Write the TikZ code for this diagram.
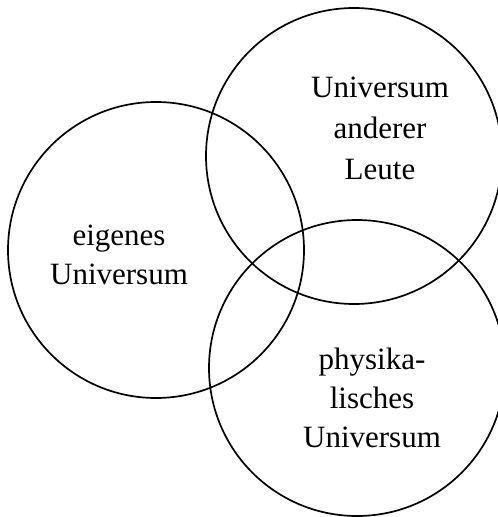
\documentclass[tikz,border=0pt]{standalone}
\usepackage{fontspec}
\setmainfont{Liberation Serif}
\begin{document}
\begin{tikzpicture}[x=1bp,y=-1bp,
  ring/.style={draw=black,line width=1.7bp},
  label/.style={align=center,font=\fontsize{31bp}{39bp}\selectfont,inner sep=0pt}]
\useasboundingbox (0,0) rectangle (498,517);
\draw[ring] (156,250) circle[radius=148];
\draw[ring] (354,156) circle[radius=148];
\draw[ring] (357,368) circle[radius=148];
\node[label,anchor=center] (own) at (119,255) {eigenes\\Universum};
\node[label,anchor=center,font=\fontsize{31bp}{41bp}\selectfont] (others) at (380,128) {Universum\\anderer\\Leute};
\node[label,anchor=center] (phys) at (372,398) {physika-\\lisches\\Universum};
\end{tikzpicture}
\end{document}
